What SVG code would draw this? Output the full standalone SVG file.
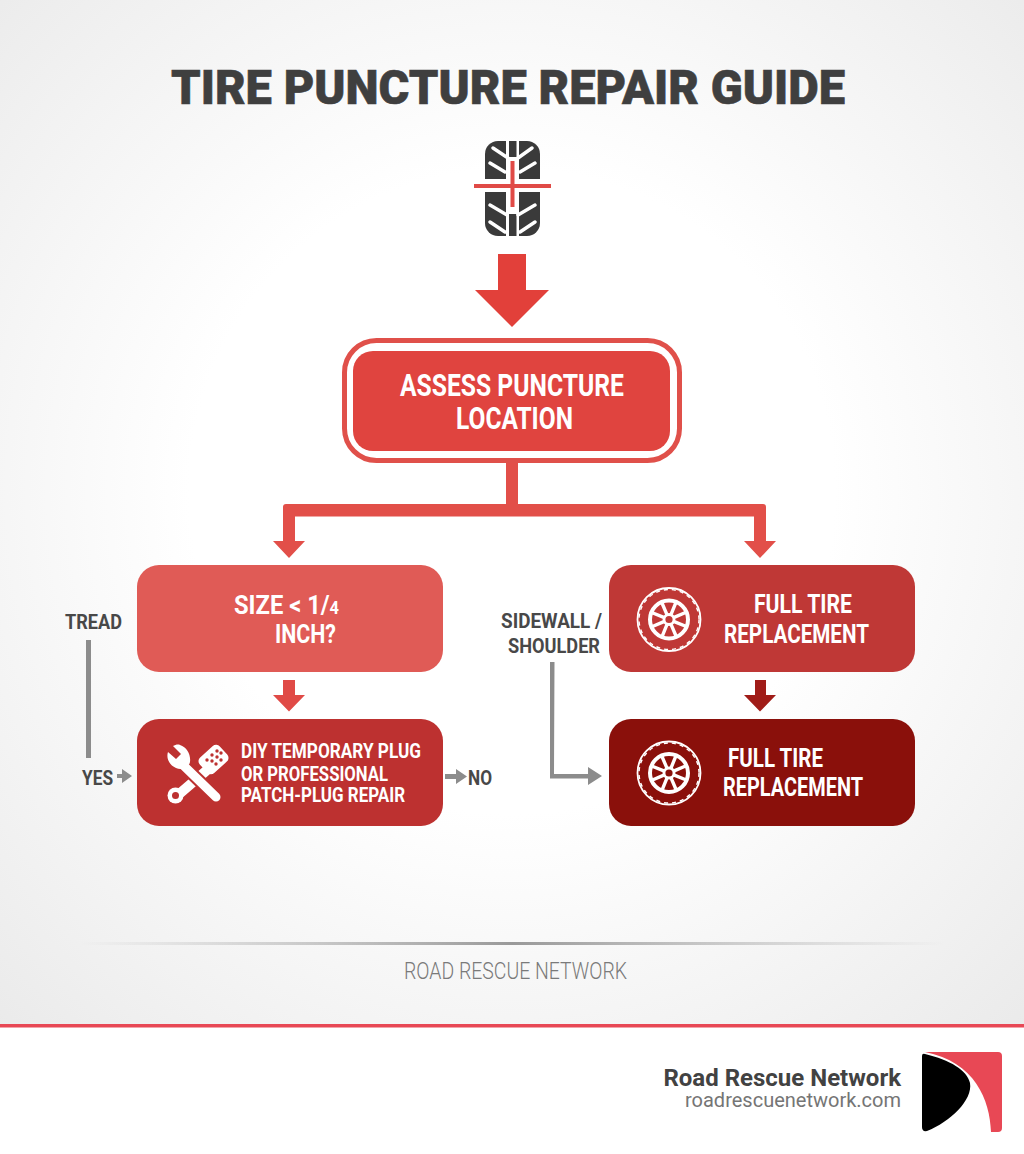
<svg xmlns="http://www.w3.org/2000/svg" xmlns:xlink="http://www.w3.org/1999/xlink" width="1024" height="1154" viewBox="0 0 1024 1154">
<style>
text{font-family:"Roboto","Liberation Sans",sans-serif}
.t{font-weight:700;fill:#fff;font-size:26px}
.s{font-weight:700;fill:#fff;font-size:21px}
.l{font-weight:700;fill:#484848;font-size:21px}
.g{fill:#8c8c8c}
.r{fill:#e24f49}
</style>
<defs>
<radialGradient id="bg" cx="50%" cy="48%" r="75%"><stop offset="0.42" stop-color="#ffffff"/><stop offset="1" stop-color="#e9e9e9"/></radialGradient>
<linearGradient id="rule"><stop offset="0" stop-color="#aaa" stop-opacity="0"/><stop offset="0.5" stop-color="#999"/><stop offset="1" stop-color="#aaa" stop-opacity="0"/></linearGradient>
<symbol id="wheel" viewBox="0 0 68 68" width="68" height="68" overflow="visible">
<circle cx="34" cy="34" r="31.500" fill="none" stroke="#fff" stroke-width="1.800"/>
<circle cx="34" cy="34" r="30" fill="none" stroke="#fff" stroke-width="1.400" stroke-dasharray="4 4"/>
<circle cx="34" cy="34" r="19" fill="none" stroke="#fff" stroke-width="4"/>
<circle cx="34" cy="34" r="5" fill="none" stroke="#fff" stroke-width="2.800"/>
<g stroke="#fff" stroke-width="3.400" transform="rotate(22 34 34)"><path d="M34 29V16M34 39V52M29 34H16M39 34H52M30.500 30.500L21.300 21.300M37.500 37.500L46.700 46.700M37.500 30.500L46.700 21.300M30.500 37.500L21.300 46.700"/></g>
</symbol>
</defs>
<rect id="background" width="1024" height="1024" fill="url(#bg)"/>
<rect id="footer-band" y="1024" width="1024" height="130" fill="#fff"/>
<rect x="0" y="1024" width="1024" height="3.500" fill="#e84855"/>

<g id="title"><text x="171" y="104" font-weight="900" fill="#3f3f3f" stroke="#3f3f3f" stroke-width="0.600" textLength="674" lengthAdjust="spacingAndGlyphs" style="font-size:48px">TIRE PUNCTURE REPAIR GUIDE</text></g>

<g id="tire-icon">
<rect x="485" y="141" width="55" height="95" rx="13" fill="#3a3a3a"/>
<rect x="484" y="179" width="57" height="13" fill="#fff"/>
<rect x="506" y="140" width="13" height="97" fill="#fff"/>
<rect x="509" y="141" width="7.500" height="16" fill="#3a3a3a"/>
<rect x="509" y="214" width="7.500" height="22" fill="#3a3a3a"/>
<g fill="none" stroke="#fff" stroke-width="3.400" stroke-linecap="round">
<path d="M493 148L508 158M490 163L505 172M532 148L518 158M535 163L520 172M490 205L507 215M490 222L505 232M535 205L518 215M535 222L520 232"/>
</g>
<rect x="474" y="184" width="77" height="4" fill="#e04a46"/>
<rect x="510.500" y="161" width="4" height="46" fill="#e04a46"/>
</g>

<g id="connectors">
<polygon points="498,254 526,254 526,290 549,290 512,327 475,290 498,290" fill="#e2403a"/>
<path class="r" d="M506 463H518V504H763Q766 504 766 507V541H776L760 558L744 541H754V516.500H295V541H305L289 558L273 541H283V507Q283 504 286 504H506Z"/>
<polygon points="283,680 295,680 295,695 305,695 289,711.500 273,695 283,695" fill="#e04a46"/>
<polygon points="755,680 766,680 766,695 776,695 760,711.500 744,695 755,695" fill="#a01c18"/>
<rect class="g" x="86" y="640" width="5" height="118"/>
<polygon class="g" points="117,774 122,774 122,769 132,776 122,783 122,778 117,778"/>
<polygon class="g" points="445,774 456,774 456,769 467,776.500 456,784 456,779 445,779"/>
<polygon class="g" points="550,662 554.500,662 554,774 588,774 588,767 602,776 588,785 588,778.500 550,778.500"/>
</g>

<g id="node-assess">
<rect x="344.500" y="340.500" width="335" height="120" rx="32" fill="#fff" stroke="#e0504a" stroke-width="5"/>
<rect x="353" y="351" width="317" height="100" rx="20" fill="#e0443f"/>
<text class="t" x="400" y="396" textLength="224" lengthAdjust="spacingAndGlyphs" style="font-size:31px">ASSESS PUNCTURE</text>
<text class="t" x="456" y="429" textLength="117" lengthAdjust="spacingAndGlyphs" style="font-size:31px">LOCATION</text>
</g>

<g id="node-size">
<rect x="137" y="565" width="306" height="107" rx="22" fill="#e05b56"/>
<text class="t" x="234" y="614" textLength="105" lengthAdjust="spacingAndGlyphs">SIZE &lt; 1/<tspan style="font-size:18px">4</tspan></text>
<text class="t" x="275" y="643" textLength="61" lengthAdjust="spacingAndGlyphs">INCH?</text>
</g>

<g id="node-repair">
<rect x="137" y="719" width="306" height="107" rx="22" fill="#bd3130"/>
<g id="repair-icon">
<path d="M178 795L206 771" stroke="#fff" stroke-width="10" stroke-linecap="round" fill="none"/>
<circle cx="175.500" cy="795.500" r="8" fill="#fff"/><circle cx="175.500" cy="795.500" r="3.500" fill="#bd3130"/>
<rect x="200" y="749" width="27" height="21" rx="5" fill="#fff" transform="rotate(-42 213.500 759.500)"/>
<g fill="#bd3130"><circle cx="207" cy="760" r="1.700"/><circle cx="212" cy="755" r="1.700"/><circle cx="217" cy="751" r="1.700"/><circle cx="212" cy="761" r="1.700"/><circle cx="217" cy="757" r="1.700"/><circle cx="221" cy="753" r="1.700"/><circle cx="216" cy="764" r="1.700"/><circle cx="221" cy="760" r="1.700"/></g>
<path d="M183 765L216 797" stroke="#bd3130" stroke-width="13" fill="none"/>
<path d="M183 765L216 797" stroke="#fff" stroke-width="9" stroke-linecap="round" fill="none"/>
<path d="M173 746L181 754L176 759L168 752C166 758 169 765 176 768C182 771 189 767 190 762C191 755 187 747 180 745C178 744 175 745 173 746Z" fill="#fff"/>
</g>
<text class="s" x="241" y="758" textLength="180" lengthAdjust="spacingAndGlyphs">DIY TEMPORARY PLUG</text>
<text class="s" x="241" y="781" textLength="147" lengthAdjust="spacingAndGlyphs">OR PROFESSIONAL</text>
<text class="s" x="241" y="802" textLength="164" lengthAdjust="spacingAndGlyphs">PATCH-PLUG REPAIR</text>
</g>

<g id="node-replace-1">
<rect x="609" y="565" width="306" height="107" rx="22" fill="#bf3836"/>
<use xlink:href="#wheel" href="#wheel" x="635" y="585.500"/>
<text class="t" x="754" y="613" textLength="98" lengthAdjust="spacingAndGlyphs">FULL TIRE</text>
<text class="t" x="724" y="643" textLength="145" lengthAdjust="spacingAndGlyphs">REPLACEMENT</text>
</g>

<g id="node-replace-2">
<rect x="609" y="719" width="306" height="107" rx="22" fill="#8a100b"/>
<use xlink:href="#wheel" href="#wheel" x="635" y="739"/>
<text class="t" x="728" y="767" textLength="95" lengthAdjust="spacingAndGlyphs">FULL TIRE</text>
<text class="t" x="723" y="796" textLength="140" lengthAdjust="spacingAndGlyphs">REPLACEMENT</text>
</g>

<g id="labels">
<text class="l" x="65" y="629" textLength="57" lengthAdjust="spacingAndGlyphs">TREAD</text>
<text class="l" x="82" y="785" textLength="31" lengthAdjust="spacingAndGlyphs">YES</text>
<text class="l" x="468" y="785" textLength="24" lengthAdjust="spacingAndGlyphs">NO</text>
<text class="l" x="501" y="628" textLength="101" lengthAdjust="spacingAndGlyphs">SIDEWALL /</text>
<text class="l" x="508" y="653" textLength="92" lengthAdjust="spacingAndGlyphs">SHOULDER</text>
</g>

<g id="footer">
<rect x="80" y="942" width="865" height="3" fill="url(#rule)"/>
<text x="404" y="979" fill="#7a7a7a" font-weight="300" textLength="223" lengthAdjust="spacingAndGlyphs" style="font-size:24px">ROAD RESCUE NETWORK</text>
<text x="901" y="1086" text-anchor="end" fill="#424242" font-weight="700" style="font-size:24px">Road Rescue Network</text>
<text x="901" y="1107" text-anchor="end" fill="#757575" style="font-size:20px">roadrescuenetwork.com</text>
</g>

<g id="logo">
<path d="M925 1052H998Q1002 1052 1002 1056V1128Q1002 1132 998 1132H991C990 1100 975 1062 925 1052Z" fill="#e84855"/>
<path d="M922 1056Q922 1053 925 1054C950 1060 967 1070 970 1083C973 1100 950 1122 927 1131Q922 1132 922 1127Z" fill="#000"/>
</g>
</svg>
